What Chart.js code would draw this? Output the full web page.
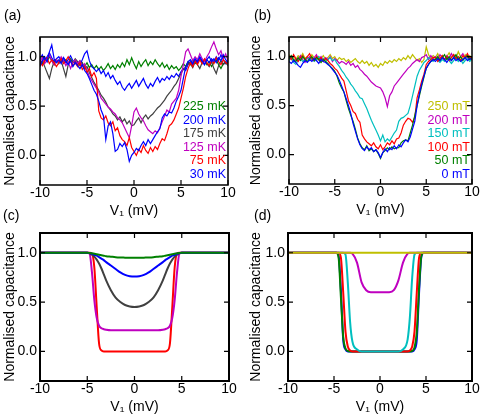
<!DOCTYPE html>
<html>
<head>
<meta charset="utf-8">
<script src="https://cdn.jsdelivr.net/npm/chart.js@4.4.1/dist/chart.umd.min.js"></script>
<style>
    html, body { margin: 0; padding: 0; background: #fff; }
    #wrap { position: relative; width: 484px; height: 418px; overflow: hidden; }
    #wrap canvas { position: absolute; left: 0; top: 0; }
</style>
</head>
<body>
<div id="wrap">
    <canvas id="chartA" width="484" height="418"></canvas>
    <canvas id="chartB" width="484" height="418"></canvas>
    <canvas id="chartC" width="484" height="418"></canvas>
    <canvas id="chartD" width="484" height="418"></canvas>
</div>
<script>
// ====== TICKS ======
const xTicks = [-10, -5, 0, 5, 10];
const yTicks = [0, 0.5, 1.0];

// ====== MEASURED DATA (panels a, b), V1 in mV ======
const xMeasured = [
    -10, -9.75, -9.5, -9.25, -9, -8.75, -8.5, -8.25,
    -8, -7.75, -7.5, -7.25, -7, -6.75, -6.5, -6.25,
    -6, -5.75, -5.5, -5.25, -5, -4.75, -4.5, -4.25,
    -4, -3.75, -3.5, -3.25, -3, -2.75, -2.5, -2.25,
    -2, -1.75, -1.5, -1.25, -1, -0.75, -0.5, -0.25,
    0, 0.25, 0.5, 0.75, 1, 1.25, 1.5, 1.75,
    2, 2.25, 2.5, 2.75, 3, 3.25, 3.5, 3.75,
    4, 4.25, 4.5, 4.75, 5, 5.25, 5.5, 5.75,
    6, 6.25, 6.5, 6.75, 7, 7.25, 7.5, 7.75,
    8, 8.25, 8.5, 8.75, 9, 9.25, 9.5, 9.75,
    10
];

const temp225 = [
    0.97, 0.93, 0.98, 0.95, 1.00, 0.96, 0.92, 0.97,
    0.94, 0.99, 0.95, 0.97, 0.93, 0.98, 0.94, 0.96,
    0.92, 0.96, 0.93, 0.90, 0.94, 0.89, 0.92, 0.88,
    0.91, 0.87, 0.90, 0.86, 0.89, 0.93, 0.88, 0.91,
    0.87, 0.92, 0.89, 0.94, 0.90, 0.97, 0.92, 0.99,
    0.93, 0.88, 0.95, 0.90, 0.94, 0.97, 0.91, 0.95,
    0.92, 0.97, 0.93, 0.90, 0.94, 0.89, 0.92, 0.87,
    0.91, 0.88, 0.90, 0.86, 0.89, 0.93, 0.90, 0.95,
    0.92, 0.97, 0.93, 0.95, 0.99, 0.94, 0.96, 0.92,
    0.95, 0.90, 0.94, 0.97, 0.92, 0.88, 0.93, 0.95,
    0.93
];
const temp200 = [
    0.98, 1.02, 0.96, 1.00, 1.04, 0.99, 0.95, 0.98,
    1.00, 0.96, 0.99, 0.94, 0.97, 1.01, 0.96, 0.93,
    0.95, 0.92, 0.97, 1.03, 1.06, 0.96, 0.90, 0.88,
    0.85, 0.88, 0.83, 0.86, 0.80, 0.84, 0.78, 0.81,
    0.76, 0.72, 0.75, 0.69, 0.66, 0.70, 0.73, 0.68,
    0.72, 0.76, 0.70, 0.74, 0.78, 0.72, 0.68, 0.73,
    0.70, 0.75, 0.79, 0.74, 0.78, 0.76, 0.80, 0.77,
    0.81, 0.79, 0.83, 0.80, 0.85, 0.88, 0.86, 0.92,
    0.95, 0.91, 0.97, 0.94, 0.99, 0.95, 0.92, 0.97,
    0.94, 0.98, 0.95, 1.00, 0.96, 1.02, 0.97, 0.93,
    0.96
];
const temp175 = [
    0.92, 0.96, 0.90, 0.84, 0.78, 0.88, 0.95, 0.97,
    0.93, 0.96, 0.88, 0.80, 0.92, 0.97, 0.94, 0.98,
    0.95, 0.91, 0.94, 0.88, 0.90, 0.84, 0.79, 0.74,
    0.70, 0.66, 0.61, 0.58, 0.54, 0.49, 0.46, 0.42,
    0.40, 0.36, 0.39, 0.34, 0.37, 0.32, 0.35, 0.30,
    0.31, 0.35, 0.38, 0.33, 0.38, 0.41, 0.37, 0.40,
    0.42, 0.45, 0.48, 0.50, 0.53, 0.56, 0.60, 0.63,
    0.66, 0.70, 0.73, 0.78, 0.83, 0.87, 0.90, 0.93,
    0.93, 0.89, 0.95, 0.92, 0.88, 0.94, 0.97, 0.93,
    0.90, 0.95, 0.88, 0.83, 0.91, 0.96, 0.92, 0.94,
    0.91
];
const temp125 = [
    0.95, 0.99, 0.93, 0.97, 1.02, 0.96, 0.92, 0.97,
    0.94, 1.00, 0.96, 0.91, 0.95, 0.88, 0.94, 0.97,
    0.93, 0.96, 0.90, 0.93, 0.86, 0.80, 0.76, 0.72,
    0.68, 0.64, 0.58, 0.55, 0.52, 0.49, 0.47, 0.44,
    0.42, 0.38, 0.36, 0.33, 0.28, 0.23, 0.18, 0.30,
    0.44, 0.48, 0.42, 0.38, 0.35, 0.30, 0.26, 0.24,
    0.22, 0.25, 0.23, 0.28, 0.34, 0.40, 0.46, 0.44,
    0.52, 0.55, 0.58, 0.66, 0.80, 0.92, 1.05, 1.08,
    1.02, 0.96, 1.00, 0.97, 1.03, 0.98, 0.95, 1.00,
    1.04, 1.10, 1.15, 1.08, 1.02, 1.06, 0.98, 1.03,
    0.96
];
const temp75 = [
    0.95, 0.91, 0.96, 0.99, 0.93, 0.97, 0.94, 0.90,
    0.94, 0.98, 0.93, 0.96, 1.00, 0.95, 0.91, 0.94,
    0.90, 0.94, 0.87, 0.90, 0.84, 0.88, 0.80, 0.84,
    0.78, 0.45, 0.38, 0.36, 0.40, 0.33, 0.30, 0.34,
    0.25, 0.28, 0.20, 0.16, 0.14, 0.10, 0.18, 0.08,
    0.04, 0.00, 0.06, 0.03, 0.10, 0.05, 0.02, 0.08,
    0.04, 0.09, 0.06, 0.12, 0.17, 0.15, 0.22, 0.30,
    0.32, 0.36, 0.42, 0.48, 0.58, 0.68, 0.80, 0.88,
    0.94, 0.90, 0.96, 0.92, 0.97, 0.93, 0.98, 0.94,
    0.91, 0.96, 0.93, 0.99, 0.95, 0.92, 0.97, 0.94,
    0.93
];
const temp30 = [
    0.90, 0.96, 1.00, 0.95, 1.05, 1.12, 0.98, 0.94,
    0.97, 0.93, 0.99, 0.95, 0.92, 0.96, 0.90, 0.94,
    0.91, 0.88, 0.92, 0.86, 0.83, 0.78, 0.72, 0.66,
    0.62, 0.55, 0.46, 0.40, 0.16, 0.30, 0.34, 0.22,
    0.04, 0.06, 0.12, 0.09, 0.13, 0.06, -0.06, 0.00,
    0.03, 0.07, 0.05, 0.10, 0.14, 0.10, 0.16, 0.12,
    0.16, 0.20, 0.24, 0.27, 0.38, 0.42, 0.40, 0.44,
    0.43, 0.48, 0.55, 0.60, 0.66, 0.78, 0.90, 0.95,
    0.97, 0.93, 0.98, 0.95, 1.00, 0.96, 0.92, 0.97,
    1.00, 0.95, 0.98, 0.94, 0.99, 0.96, 1.02, 0.97,
    0.94
];

const field250 = [
    1.02, 0.98, 1.00, 0.97, 1.01, 0.99, 1.03, 0.98,
    1.00, 0.97, 1.02, 0.99, 0.96, 1.00, 0.98, 1.01,
    0.97, 0.99, 1.02, 0.98, 1.00, 0.96, 0.99, 0.97,
    0.98, 0.95, 0.97, 0.94, 0.96, 0.98, 0.95, 0.93,
    0.96, 0.93, 0.95, 0.91, 0.94, 0.90, 0.92, 0.89,
    0.93, 0.91, 0.95, 0.93, 0.96, 0.94, 0.97, 0.95,
    0.98, 0.96, 0.99, 0.97, 1.01, 0.98, 1.02, 0.99,
    0.96, 0.98, 0.94, 0.97, 1.10, 1.02, 0.98, 1.01,
    0.99, 1.03, 0.98, 1.01, 0.97, 1.00, 1.04, 0.99,
    1.02, 0.98, 1.05, 1.00, 0.97, 1.02, 0.99, 1.01,
    0.98
];
const field200 = [
    0.97, 1.00, 0.95, 0.98, 0.96, 1.01, 0.97, 0.94,
    0.98, 1.00, 0.96, 0.99, 1.02, 0.97, 1.00, 0.96,
    0.99, 0.97, 1.00, 0.95, 0.98, 0.96, 0.93, 0.95,
    0.94, 0.92, 0.95, 0.91, 0.93, 0.89, 0.91, 0.87,
    0.85, 0.82, 0.80, 0.77, 0.74, 0.72, 0.70, 0.69,
    0.68, 0.64, 0.58, 0.49, 0.60, 0.64, 0.70, 0.73,
    0.76, 0.79, 0.82, 0.85, 0.88, 0.90, 0.93, 0.95,
    0.97, 0.95, 0.99, 1.00, 1.02, 0.97, 1.01, 0.98,
    1.00, 0.97, 1.02, 0.99, 0.96, 1.01, 0.98, 1.03,
    0.99, 1.01, 0.97, 1.00, 1.03, 0.98, 1.00, 0.97,
    0.99
];
const field150 = [
    0.96, 0.99, 0.94, 0.92, 0.96, 0.98, 0.95, 0.97,
    0.99, 0.96, 0.98, 0.95, 0.97, 1.00, 0.96, 0.98,
    0.95, 0.97, 0.99, 0.96, 0.97, 0.93, 0.90, 0.86,
    0.83, 0.79, 0.76, 0.72, 0.69, 0.65, 0.62, 0.58,
    0.57, 0.52, 0.47, 0.41, 0.35, 0.30, 0.25, 0.20,
    0.14, 0.20, 0.13, 0.16, 0.14, 0.18, 0.22, 0.25,
    0.34, 0.37, 0.38, 0.40, 0.42, 0.50, 0.60, 0.70,
    0.80, 0.86, 0.90, 0.94, 0.96, 0.99, 0.97, 0.95,
    0.98, 0.96, 0.94, 0.97, 0.95, 0.98, 0.96, 0.93,
    0.96, 0.99, 0.95, 0.97, 0.93, 0.96, 0.98, 0.95,
    0.97
];
const field100 = [
    1.00, 0.97, 1.02, 0.98, 0.95, 0.99, 1.01, 0.97,
    1.00, 1.03, 0.98, 0.96, 1.00, 0.97, 0.99, 0.95,
    0.98, 0.96, 0.93, 0.91, 0.88, 0.86, 0.82, 0.78,
    0.75, 0.65, 0.55, 0.50, 0.44, 0.42, 0.36, 0.33,
    0.20, 0.16, 0.13, 0.11, 0.09, 0.12, 0.08, 0.06,
    0.10, 0.05, 0.08, 0.12, 0.10, 0.14, 0.11, 0.16,
    0.17, 0.22, 0.30, 0.34, 0.37, 0.36, 0.33, 0.38,
    0.58, 0.66, 0.75, 0.82, 0.92, 0.95, 0.97, 0.99,
    0.99, 0.95, 0.98, 1.01, 0.97, 1.00, 0.96, 0.99,
    1.02, 0.98, 1.00, 0.96, 1.01, 0.99, 1.03, 0.98,
    1.00
];
const field50 = [
    0.98, 1.01, 0.97, 0.95, 0.99, 0.96, 1.00, 0.97,
    0.95, 0.98, 1.00, 0.96, 0.99, 0.97, 0.94, 0.97,
    0.95, 0.93, 0.90, 0.88, 0.85, 0.80, 0.73, 0.68,
    0.64, 0.55, 0.47, 0.40, 0.34, 0.26, 0.17, 0.11,
    0.07, 0.05, 0.09, 0.04, 0.06, 0.03, 0.05, 0.01,
    -0.04, 0.02, 0.04, 0.07, 0.05, 0.08, 0.06, 0.07,
    0.07, 0.12, 0.14, 0.15, 0.14, 0.22, 0.30, 0.40,
    0.50, 0.60, 0.70, 0.79, 0.88, 0.92, 0.95, 0.97,
    0.97, 1.00, 0.96, 0.99, 1.02, 0.97, 1.00, 0.96,
    0.99, 1.02, 0.97, 1.00, 0.96, 0.99, 1.01, 0.97,
    0.99
];
const field0 = [
    0.95, 0.93, 0.96, 0.94, 0.91, 0.89, 0.93, 0.96,
    0.94, 0.97, 0.95, 0.98, 0.96, 0.93, 0.97, 0.95,
    0.94, 0.92, 0.90, 0.87, 0.84, 0.81, 0.76, 0.70,
    0.64, 0.57, 0.50, 0.42, 0.32, 0.24, 0.16, 0.10,
    0.06, 0.04, 0.08, 0.05, 0.07, 0.03, 0.05, 0.02,
    -0.03, 0.02, 0.06, 0.03, 0.07, 0.05, 0.09, 0.06,
    0.10, 0.08, 0.12, 0.15, 0.13, 0.18, 0.26, 0.34,
    0.50, 0.62, 0.72, 0.80, 0.88, 0.92, 0.95, 0.97,
    0.95, 0.98, 0.96, 0.99, 0.97, 0.94, 0.98, 0.96,
    0.99, 0.96, 0.98, 0.95, 0.97, 0.99, 0.96, 0.98,
    0.97
];

// ====== SIMULATED DATA (panels c, d) ======
const xModel = [
    -10, -6, -5, -4.75, -4.5, -4.25, -4, -3.75, -3.5, -3.25, -3,
    -2.5, -2, -1.5, -1, -0.5, 0, 0.5, 1, 1.5, 2, 2.5,
    3, 3.25, 3.5, 3.75, 4, 4.25, 4.5, 4.75, 5, 6, 10
];

const simTemp225 = [1, 1, 1, 0.998, 0.995, 0.99, 0.985, 0.98, 0.975, 0.97, 0.965,
    0.96, 0.955, 0.952, 0.95, 0.948, 0.948, 0.948, 0.95, 0.952, 0.955, 0.96,
    0.965, 0.97, 0.975, 0.98, 0.985, 0.99, 0.995, 0.998, 1, 1, 1];
const simTemp200 = [1, 1, 1, 0.998, 0.99, 0.98, 0.97, 0.955, 0.94, 0.925, 0.905,
    0.87, 0.835, 0.80, 0.775, 0.762, 0.758, 0.762, 0.775, 0.80, 0.835, 0.87,
    0.905, 0.925, 0.94, 0.955, 0.97, 0.98, 0.99, 0.998, 1, 1, 1];
const simTemp175 = [1, 1, 1, 0.995, 0.98, 0.96, 0.93, 0.89, 0.84, 0.78, 0.72,
    0.62, 0.545, 0.50, 0.47, 0.455, 0.45, 0.455, 0.47, 0.50, 0.545, 0.62,
    0.72, 0.78, 0.84, 0.89, 0.93, 0.96, 0.98, 0.995, 1, 1, 1];
const simTemp125 = [1, 1, 1, 0.99, 0.80, 0.52, 0.34, 0.26, 0.235, 0.225, 0.22,
    0.215, 0.215, 0.215, 0.215, 0.215, 0.215, 0.215, 0.215, 0.215, 0.215, 0.215,
    0.22, 0.225, 0.235, 0.26, 0.34, 0.52, 0.80, 0.99, 1, 1, 1];
const simTemp75 = [1, 1, 1, 1, 0.99, 0.85, 0.45, 0.08, 0.01, 0, 0,
    0, 0, 0, 0, 0, 0, 0, 0, 0, 0, 0,
    0, 0, 0.01, 0.08, 0.45, 0.85, 0.99, 1, 1, 1, 1];

const simField0 = [1, 1, 1, 1, 0.97, 0.62, 0.12, 0.02, 0, 0, 0,
    0, 0, 0, 0, 0, 0, 0, 0, 0, 0, 0,
    0, 0, 0, 0.02, 0.12, 0.6, 0.96, 1, 1, 1, 1];
const simField50 = [1, 1, 1, 1, 0.95, 0.55, 0.15, 0.03, 0.005, 0, 0,
    0, 0, 0, 0, 0, 0, 0, 0, 0, 0, 0,
    0, 0, 0.005, 0.04, 0.2, 0.65, 0.97, 1, 1, 1, 1];
const simField100 = [1, 1, 1, 1, 1, 0.95, 0.6, 0.2, 0.05, 0.01, 0,
    0, 0, 0, 0, 0, 0, 0, 0, 0, 0, 0,
    0, 0.01, 0.05, 0.2, 0.6, 0.95, 1, 1, 1, 1, 1];
const simField150 = [1, 1, 1, 1, 1, 1, 1, 0.98, 0.70, 0.30, 0.10,
    0.02, 0, 0, 0, 0, 0, 0, 0, 0, 0, 0.02,
    0.12, 0.35, 0.75, 0.98, 1, 1, 1, 1, 1, 1, 1];
const simField200 = [1, 1, 1, 1, 1, 1, 1, 1, 1, 1, 0.99,
    0.90, 0.70, 0.62, 0.60, 0.60, 0.60, 0.60, 0.60, 0.62, 0.72, 0.90,
    0.99, 1, 1, 1, 1, 1, 1, 1, 1, 1, 1];
const simField250 = [1, 1, 1, 1, 1, 1, 1, 1, 1, 1, 1,
    1, 1, 1, 1, 1, 1, 1, 1, 1, 1, 1,
    1, 1, 1, 1, 1, 1, 1, 1, 1, 1, 1];

// ====== LABELS / COLOURS ======
const tempLabels = ["225 mK", "200 mK", "175 mK", "125 mK", "75 mK", "30 mK"];
const tempColors = ["#008000", "#0000ff", "#404040", "#bf00bf", "#ff0000", "#0000ff"];
const fieldLabels = ["250 mT", "200 mT", "150 mT", "100 mT", "50 mT", "0 mT"];
const fieldColors = ["#bfbf00", "#bf00bf", "#00bfbf", "#ff0000", "#008000", "#0000ff"];

const FONT = '"Liberation Sans", Arial, sans-serif';
Chart.defaults.font.family = FONT;
Chart.defaults.color = "#000";

// frame, inward ticks, legend text and panel letter
const framePlugin = {
    id: "frame",
    afterDraw(chart, args, opts) {
        const ctx = chart.ctx;
        const a = chart.chartArea;
        const xs = chart.scales.x;
        const ys = chart.scales.y;
        ctx.save();
        ctx.strokeStyle = "#000";
        ctx.lineWidth = opts.frameWidth;
        ctx.strokeRect(a.left, a.top, a.right - a.left, a.bottom - a.top);

        ctx.lineWidth = 1.2;
        ctx.beginPath();
        xTicks.forEach(v => {
            const px = xs.getPixelForValue(v);
            ctx.moveTo(px, a.bottom); ctx.lineTo(px, a.bottom - 5);
            ctx.moveTo(px, a.top); ctx.lineTo(px, a.top + 5);
        });
        yTicks.forEach(v => {
            const py = ys.getPixelForValue(v);
            ctx.moveTo(a.left, py); ctx.lineTo(a.left + 5, py);
            ctx.moveTo(a.right, py); ctx.lineTo(a.right - 5, py);
        });
        ctx.stroke();

        if (opts.legend) {
            ctx.font = "12.5px " + FONT;
            ctx.textAlign = "right";
            ctx.textBaseline = "middle";
            opts.legend.forEach((item, i) => {
                ctx.fillStyle = item.color;
                ctx.fillText(item.text, a.right - 2, a.top + 70 + i * 13.5);
            });
        }

        ctx.font = "14px " + FONT;
        ctx.textAlign = "left";
        ctx.textBaseline = "middle";
        ctx.fillStyle = "#000";
        ctx.fillText(opts.letter, opts.letterX, opts.letterY);
        ctx.restore();
    }
};

function renderPanel(id, cfg) {
    const ctx = document.getElementById(id).getContext("2d");
    const n = cfg.series.length;
    return new Chart(ctx, {
        type: "line",
        data: {
            datasets: cfg.series.map((s, i) => ({
                label: s.label,
                data: cfg.xs.map((x, j) => ({ x: x, y: s.values[j] })),
                borderColor: s.color,
                borderWidth: cfg.lineWidth,
                pointRadius: 0,
                fill: false,
                tension: 0,
                cubicInterpolationMode: cfg.smooth ? "monotone" : "default",
                order: n - i
            }))
        },
        options: {
            responsive: false,
            animation: false,
            events: [],
            layout: { padding: cfg.pad },
            plugins: {
                legend: { display: false },
                tooltip: { enabled: false },
                frame: {
                    frameWidth: cfg.frameWidth,
                    legend: cfg.legend,
                    letter: cfg.letter,
                    letterX: cfg.letterX,
                    letterY: cfg.letterY
                }
            },
            scales: {
                x: {
                    type: "linear",
                    min: -10,
                    max: 10,
                    afterBuildTicks: s => { s.ticks = xTicks.map(v => ({ value: v })); },
                    afterFit: s => { s.height = 35; },
                    grid: { display: false, drawTicks: false },
                    border: { display: false },
                    ticks: {
                        padding: 0,
                        maxRotation: 0,
                        autoSkip: false,
                        font: { size: 14 },
                        callback: v => String(v)
                    },
                    title: { display: true, text: "V\u2081 (mV)", font: { size: 14 }, padding: 0 }
                },
                y: {
                    type: "linear",
                    min: -0.3,
                    max: 1.2,
                    afterBuildTicks: s => { s.ticks = yTicks.map(v => ({ value: v })); },
                    afterFit: s => { s.width = cfg.yWidth; },
                    grid: { display: false, drawTicks: false },
                    border: { display: false },
                    ticks: {
                        padding: 3,
                        font: { size: 14 },
                        callback: v => Number(v).toFixed(1)
                    },
                    title: {
                        display: true,
                        text: "Normalised capacitance",
                        font: { size: 14 },
                        padding: { top: 2, bottom: 0 }
                    }
                }
            }
        },
        plugins: [framePlugin]
    });
}

document.addEventListener("DOMContentLoaded", () => {
    const tempSeries = [temp225, temp200, temp175, temp125, temp75, temp30]
        .map((v, i) => ({ label: tempLabels[i], color: tempColors[i], values: v }));
    const fieldSeries = [field250, field200, field150, field100, field50, field0]
        .map((v, i) => ({ label: fieldLabels[i], color: fieldColors[i], values: v }));

    renderPanel("chartA", {
        xs: xMeasured, series: tempSeries, lineWidth: 1.2, smooth: false,
        pad: { left: 0, top: 37, right: 256, bottom: 198 }, yWidth: 40, frameWidth: 1.5,
        legend: tempSeries.map(s => ({ text: s.label, color: s.color })),
        letter: "(a)", letterX: 4, letterY: 16
    });

    renderPanel("chartB", {
        xs: xMeasured, series: fieldSeries, lineWidth: 1.2, smooth: false,
        pad: { left: 246, top: 37, right: 12, bottom: 199 }, yWidth: 43, frameWidth: 1.5,
        legend: fieldSeries.map(s => ({ text: s.label, color: s.color })),
        letter: "(b)", letterX: 254, letterY: 16
    });

    // drawn bottom -> top
    const simTempSeries = [
        { label: tempLabels[4], color: tempColors[4], values: simTemp75 },
        { label: tempLabels[3], color: tempColors[3], values: simTemp125 },
        { label: tempLabels[2], color: tempColors[2], values: simTemp175 },
        { label: tempLabels[1], color: tempColors[1], values: simTemp200 },
        { label: tempLabels[0], color: tempColors[0], values: simTemp225 }
    ];
    renderPanel("chartC", {
        xs: xModel, series: simTempSeries, lineWidth: 2, smooth: true,
        pad: { left: 0, top: 233, right: 255, bottom: 2 }, yWidth: 40, frameWidth: 2,
        legend: null, letter: "(c)", letterX: 3, letterY: 216
    });

    const simFieldSeries = [simField0, simField50, simField100, simField150, simField200, simField250]
        .map((v, i) => ({ label: fieldLabels[5 - i], color: fieldColors[5 - i], values: v }));
    renderPanel("chartD", {
        xs: xModel, series: simFieldSeries, lineWidth: 2, smooth: true,
        pad: { left: 246, top: 233, right: 12, bottom: 2 }, yWidth: 42, frameWidth: 2,
        legend: null, letter: "(d)", letterX: 254, letterY: 216
    });
});
</script>
</body>
</html>
